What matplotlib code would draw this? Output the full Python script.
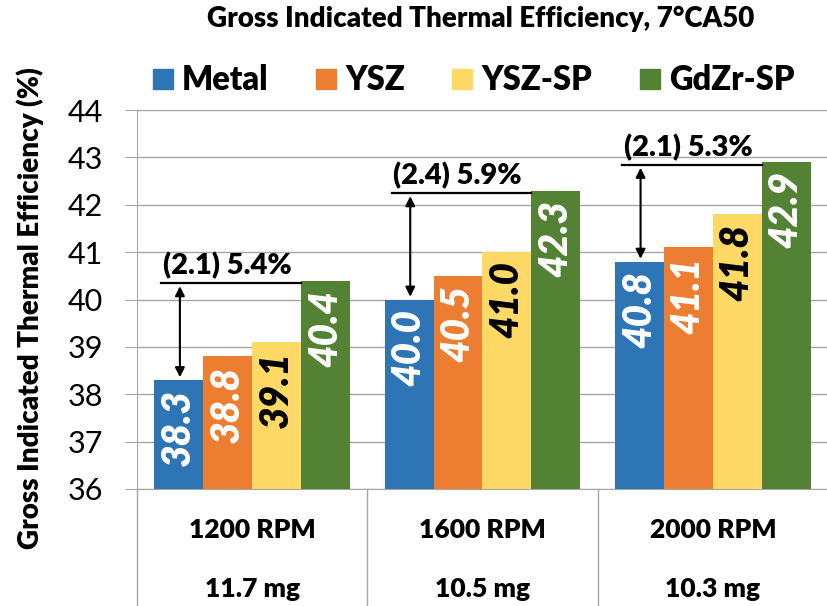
import numpy as np
import matplotlib.pyplot as plt
from matplotlib.lines import Line2D

plt.rcParams['font.family'] = ['Lato', 'DejaVu Sans']
BOLD = 'heavy'

categories = ['1200 RPM', '1600 RPM', '2000 RPM']
fuel = ['11.7 mg', '10.5 mg', '10.3 mg']
series = ['Metal', 'YSZ', 'YSZ-SP', 'GdZr-SP']
metal = [38.3, 40.0, 40.8]
ysz = [38.8, 40.5, 41.1]
ysz_sp = [39.1, 41.0, 41.8]
gdzr_sp = [40.4, 42.3, 42.9]
gain_labels = ['(2.1) 5.4%', '(2.4) 5.9%', '(2.1) 5.3%']

colors = ['#2E75B6', '#ED7D31', '#FFD966', '#548235']
text_colors = ['white', 'white', 'black', 'white']
values = [metal, ysz, ysz_sp, gdzr_sp]

fig = plt.figure(figsize=(8.28, 6.06), dpi=100)
ax = fig.add_axes([137/828, 117/606, 691/828, 379/606])

x = np.arange(len(categories))
w = 0.2125
for j, vals in enumerate(values):
    pos = x + (j - 1.5) * w
    ax.bar(pos, np.array(vals) - 36, bottom=36, width=w, color=colors[j], zorder=3)
    for xi, v in zip(pos, vals):
        ax.text(xi, v - 0.2, '%.1f' % v, rotation=90, ha='center', va='top',
                color=text_colors[j], fontsize=28, fontweight=BOLD,
                fontstyle='italic', zorder=4)

# gain annotations: line at GdZr-SP level, arrow down to metal
for i in range(len(categories)):
    x0 = x[i] - 1.5 * w - w / 2 + 0.03
    x1 = x[i] + 1.5 * w - w / 2
    ly = gdzr_sp[i] - 0.06
    ax.plot([x0, x1], [ly, ly], color='black', lw=1.6, zorder=5)
    ax.annotate('', xy=(x[i] - 1.5 * w + 0.005, metal[i]), xytext=(x[i] - 1.5 * w + 0.005, ly),
                arrowprops=dict(arrowstyle='<|-|>', color='black', lw=1.5, mutation_scale=14), zorder=5)
    ax.text(x0 + 0.008, ly + 0.19, gain_labels[i], ha='left', va='baseline',
            fontsize=21, fontweight=BOLD, zorder=5)

ax.set_xlim(-0.5, 2.5)
ax.set_ylim(36, 44)
ax.set_yticks(range(36, 45))
ax.tick_params(axis='y', labelsize=22, length=8.6, color='#A6A6A6', pad=16)
ax.set_xticks([])
ax.yaxis.grid(True, color='#A6A6A6', lw=1)
for s in ['top', 'right']:
    ax.spines[s].set_visible(False)
ax.spines['left'].set_color('#A6A6A6')
ax.spines['bottom'].set_color('#A6A6A6')

# category separators and two-row labels below the axis
trans = ax.get_xaxis_transform()
for b in [-0.5, 0.5, 1.5]:
    ax.plot([b, b], [0, -117/379], color='#A6A6A6', lw=1, transform=trans, clip_on=False)
for i in range(len(categories)):
    ax.text(x[i], -49/379, categories[i], transform=trans, ha='center', va='baseline',
            fontsize=19, fontweight=BOLD)
    ax.text(x[i], -108/379, fuel[i], transform=trans, ha='center', va='baseline',
            fontsize=19, fontweight=BOLD)

fig.text(30/828, 1 - 308/606, 'Gross Indicated Thermal Efficiency (%)', rotation=90,
         ha='center', va='center', fontsize=20, fontweight=BOLD)

fig.text(481/828, 1 - 27/606, 'Gross Indicated Thermal Efficiency, 7°CA50', ha='center', va='baseline',
         fontsize=20, fontweight=BOLD)

handles = [Line2D([], [], marker='s', ls='', markersize=14.5, color=c) for c in colors]
fig.legend(handles, series, loc='center', bbox_to_anchor=(473/828, 1 - 80/606), ncol=4,
           frameon=False, prop={'size': 23.5, 'weight': BOLD}, handletextpad=0.25,
           columnspacing=1.4, handlelength=0.7, borderpad=0, borderaxespad=0)

fig.savefig('out.png', dpi=100)
